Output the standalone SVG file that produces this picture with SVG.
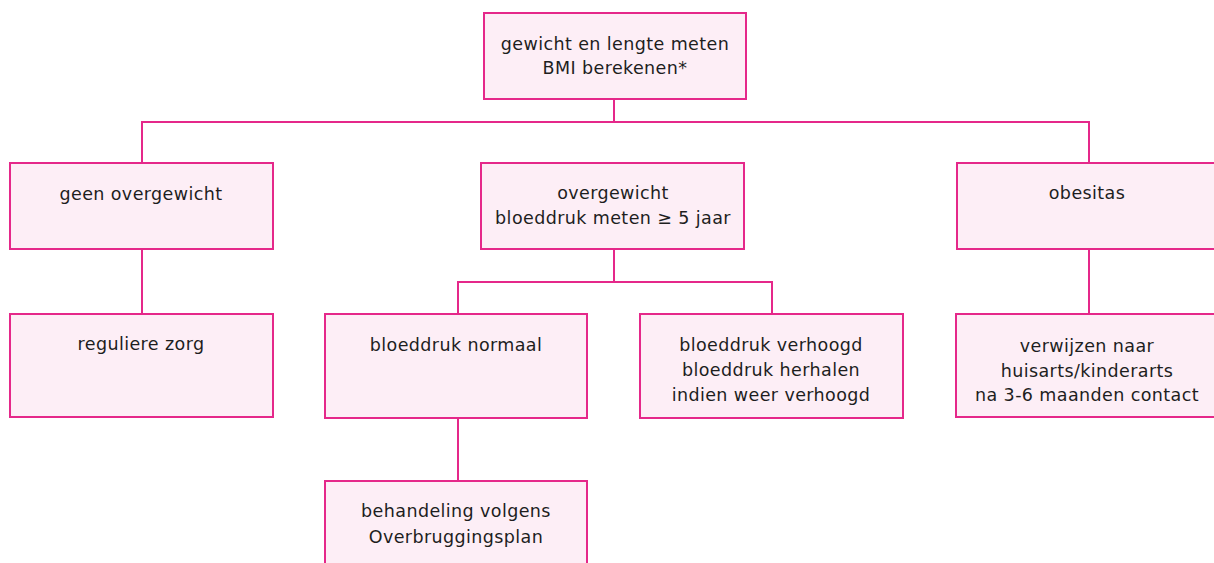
<svg xmlns="http://www.w3.org/2000/svg" width="1214" height="563" viewBox="0 0 1214 563">
<style>
.box{fill:#fdeef6;stroke:#e5288a;stroke-width:2}
.con{fill:none;stroke:#e5288a;stroke-width:2}
text{font-family:"DejaVu Sans","Noto Sans",sans-serif;font-size:17.5px;letter-spacing:0.4px;fill:#1e1e1e;text-anchor:middle}
</style>
<rect width="1214" height="563" fill="#ffffff"/>
<g id="connectors">
<path class="con" d="M614,99V122M142,163V122H1089V163"/>
<path class="con" d="M614,249V282M458,314V282H772V314"/>
<path class="con" d="M142,249V314"/>
<path class="con" d="M1089,249V314"/>
<path class="con" d="M458,418V481"/>
</g>
<g id="n-top"><rect class="box" x="484" y="13" width="262" height="86"/><text x="615" y="50">gewicht en lengte meten</text><text x="615" y="74">BMI berekenen*</text></g>
<g id="n-geen"><rect class="box" x="10" y="163" width="263" height="86"/><text x="141" y="200">geen overgewicht</text></g>
<g id="n-over"><rect class="box" x="481" y="163" width="263" height="86"/><text x="613" y="199">overgewicht</text><text x="613" y="224">bloeddruk meten ≥ 5 jaar</text></g>
<g id="n-obes"><rect class="box" x="957" y="163" width="262" height="86"/><text x="1087" y="199">obesitas</text></g>
<g id="n-reg"><rect class="box" x="10" y="314" width="263" height="103"/><text x="141" y="350">reguliere zorg</text></g>
<g id="n-norm"><rect class="box" x="325" y="314" width="262" height="104"/><text x="456" y="351">bloeddruk normaal</text></g>
<g id="n-verh"><rect class="box" x="640" y="314" width="263" height="104"/><text x="771" y="351">bloeddruk verhoogd</text><text x="771" y="376">bloeddruk herhalen</text><text x="771" y="401">indien weer verhoogd</text></g>
<g id="n-verw"><rect class="box" x="956" y="314" width="263" height="103"/><text x="1087" y="352">verwijzen naar</text><text x="1087" y="377">huisarts/kinderarts</text><text x="1087" y="401">na 3-6 maanden contact</text></g>
<g id="n-beh"><rect class="box" x="325" y="481" width="262" height="100"/><text x="456" y="517">behandeling volgens</text><text x="456" y="543">Overbruggingsplan</text></g>
</svg>
